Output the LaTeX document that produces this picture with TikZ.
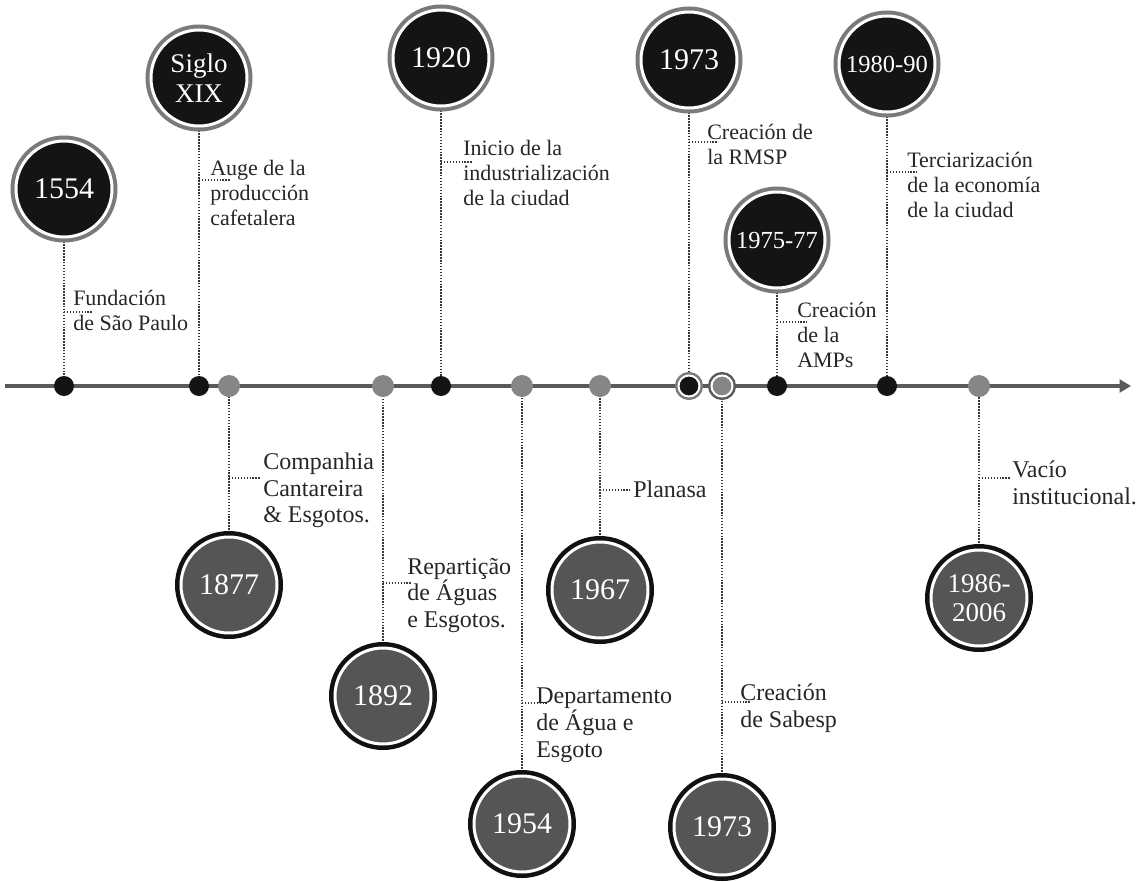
\documentclass[tikz,border=0pt]{standalone}
\usepackage{fontspec}
\setmainfont{Liberation Serif}
\usetikzlibrary{arrows.meta,backgrounds}
\definecolor{ringgray}{HTML}{7A7A7A}
\definecolor{bubblack}{HTML}{141414}
\definecolor{bubgray}{HTML}{555555}
\definecolor{ringdark}{HTML}{111111}
\definecolor{dotgray}{HTML}{868686}
\definecolor{axiscol}{HTML}{5A5A5A}
\definecolor{leadcol}{HTML}{383838}
\definecolor{labcol}{HTML}{262626}
\begin{document}
\begin{tikzpicture}[x=0.75pt,y=-0.75pt,
  topbub/.style={circle, inner sep=0pt, minimum size=72pt, fill=bubblack, draw=white, line width=2.25pt, text=white, align=center, preaction={draw=ringgray, line width=8.25pt}},
  botbub/.style={circle, inner sep=0pt, minimum size=72pt, fill=bubgray, draw=white, line width=2.25pt, text=white, align=center, preaction={draw=ringdark, line width=9pt}},
  yr/.style={font=\fontsize{22.5pt}{24pt}\selectfont},
  yrtwo/.style={font=\fontsize{20.25pt}{22pt}\selectfont},
  yrsmall/.style={font=\fontsize{18.4pt}{20pt}\selectfont},
  blackdot/.style={circle, inner sep=0pt, minimum size=15pt, fill=bubblack},
  graydot/.style={circle, inner sep=0pt, minimum size=16.5pt, fill=dotgray},
  ringblack/.style={circle, inner sep=0pt, minimum size=15.75pt, fill=bubblack, draw=white, line width=1.5pt, preaction={draw=ringgray, line width=5.25pt}},
  ringgrey/.style={circle, inner sep=0pt, minimum size=15.75pt, fill=dotgray, draw=white, line width=1.5pt, preaction={draw=axiscol, line width=5.25pt}},
  leader/.style={draw=leadcol, line width=1.1pt, dash pattern=on 1.1pt off 1.1pt},
  toplab/.style={anchor=north west, inner sep=0pt, align=left, text=labcol, font=\fontsize{16.5pt}{18.75pt}\selectfont},
  botlab/.style={anchor=north west, inner sep=0pt, align=left, text=labcol, font=\fontsize{18pt}{19.9pt}\selectfont}
]
\useasboundingbox (0,0) rectangle (1143,882);

% axis
\coordinate (axL) at (5,386);
\coordinate (axR) at (1131,386);
\draw[axiscol, line width=3pt, -{Triangle[length=8.5pt,width=9.5pt]}] (axL) -- (axR);

% dots on the axis
\node[blackdot] (d1) at (64,386) {};
\node[blackdot] (d2) at (199,386) {};
\node[graydot]  (d3) at (229,386) {};
\node[graydot]  (d4) at (383,386) {};
\node[blackdot] (d5) at (441,386) {};
\node[graydot]  (d6) at (522,386) {};
\node[graydot]  (d7) at (600,386) {};
\node[ringblack] (d8) at (689,386) {};
\node[ringgrey]  (d9) at (722,386) {};
\node[blackdot] (d10) at (777,386) {};
\node[blackdot] (d11) at (887,386) {};
\node[graydot]  (d12) at (979,386) {};

% top bubbles
\node[topbub, yr] (b1) at (64,189) {1554};
\node[topbub, yrtwo] (b2) at (199,78) {Siglo\\XIX};
\node[topbub, yr] (b5) at (441,58) {1920};
\node[topbub, yr] (b8) at (689,60) {1973};
\node[topbub, yrsmall] (b10) at (777,240) {1975-77};
\node[topbub, yrsmall] (b11) at (887,64) {1980-90};

% bottom bubbles
\node[botbub, yr] (b3) at (229,585) {1877};
\node[botbub, yr] (b4) at (383,696) {1892};
\node[botbub, yr] (b6) at (522,824) {1954};
\node[botbub, yr] (b7) at (600,590) {1967};
\node[botbub, yr] (b9) at (722,827) {1973};
\node[botbub, yrtwo] (b12) at (979,598) {1986-\\2006};

% labels
\node[toplab] (l1) at (73,290) {Fundación\\de São Paulo};
\node[toplab] (l2) at (210,160) {Auge de la\\producción\\cafetalera};
\node[toplab] (l5) at (463,140) {Inicio de la\\industrialización\\de la ciudad};
\node[toplab] (l8) at (707,124) {Creación de\\la RMSP};
\node[toplab] (l10) at (797,302) {Creación\\de la\\AMPs};
\node[toplab] (l11) at (907,152) {Terciarización\\de la economía\\de la ciudad};
\node[botlab] (l3) at (263,453) {Companhia\\Cantareira\\\& Esgotos.};
\node[botlab] (l4) at (407,558) {Repartição\\de Águas\\e Esgotos.};
\node[botlab] (l6) at (536,688) {Departamento\\de Água e\\Esgoto};
\node[botlab] (l7) at (633,481) {Planasa};
\node[botlab] (l9) at (740,684) {Creación\\de Sabesp};
\node[botlab] (l12) at (1012,461) {Vacío\\institucional.};

% stub coordinates
\coordinate (s1) at (64,312);  \coordinate (t1) at (93,312);
\coordinate (s2) at (199,180); \coordinate (t2) at (230,180);
\coordinate (s5) at (441,162); \coordinate (t5) at (473,162);
\coordinate (s8) at (689,142); \coordinate (t8) at (717,142);
\coordinate (s10) at (777,322); \coordinate (t10) at (807,322);
\coordinate (s11) at (887,172); \coordinate (t11) at (917,172);
\coordinate (s3) at (229,478); \coordinate (t3) at (260,478);
\coordinate (s4) at (383,583); \coordinate (t4) at (412,583);
\coordinate (s6) at (522,703); \coordinate (t6) at (547,703);
\coordinate (s7) at (600,490); \coordinate (t7) at (630,490);
\coordinate (s9) at (722,702); \coordinate (t9) at (751,702);
\coordinate (s12) at (979,478); \coordinate (t12) at (1010,478);

\begin{pgfonlayer}{background}
\foreach \i in {1,...,12} {
  \draw[leader] (b\i) -- (d\i);
  \draw[leader] (s\i) -- (t\i);
}
\end{pgfonlayer}
\end{tikzpicture}
\end{document}
